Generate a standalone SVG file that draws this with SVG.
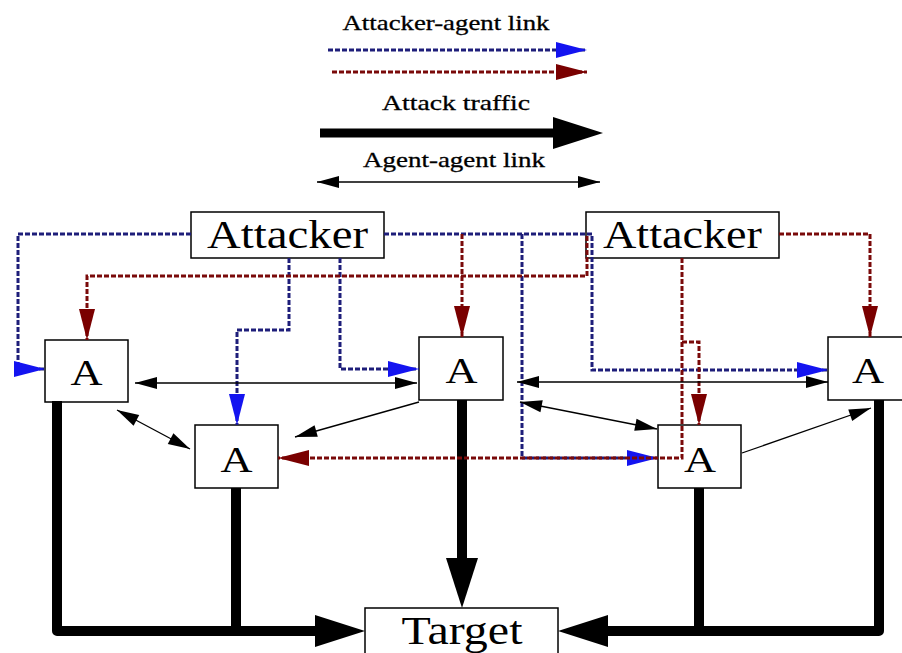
<svg xmlns="http://www.w3.org/2000/svg" width="902" height="653" viewBox="0 0 902 653">
<style>
text{font-family:"Liberation Serif","Times New Roman",serif;fill:#000;text-anchor:middle}
.lg{font-size:22px;stroke:#000;stroke-width:0.3}
.big{font-size:40px}
.a{font-size:36px}
.box{fill:#fff;stroke:#000;stroke-width:1.5}
.blue{fill:none;stroke:#1e1e7a;stroke-width:3;stroke-dasharray:5 2;marker-end:url(#mBlue)}
.red{fill:none;stroke:#7a0a0a;stroke-width:3;stroke-dasharray:5 2;marker-end:url(#mRed)}
.thick{fill:none;stroke:#000;stroke-width:10;stroke-linejoin:round}
.thin{fill:none;stroke:#000;stroke-width:1.3}
</style>
<defs>
<marker id="mBlue" markerUnits="userSpaceOnUse" markerWidth="34" markerHeight="18" refX="31" refY="8" orient="auto" overflow="visible"><path d="M0,0 L31,8 L0,16 z" fill="#1414f0"/></marker>
<marker id="mRed" markerUnits="userSpaceOnUse" markerWidth="34" markerHeight="18" refX="31" refY="8" orient="auto" overflow="visible"><path d="M0,0 L31,8 L0,16 z" fill="#7a0000"/></marker>
<marker id="mBig" markerUnits="userSpaceOnUse" markerWidth="52" markerHeight="34" refX="0" refY="16" orient="auto" overflow="visible"><path d="M0,0 L50,16 L0,32 z" fill="#000"/></marker>
<marker id="mThin" markerUnits="userSpaceOnUse" markerWidth="24" markerHeight="14" refX="22" refY="6" orient="auto-start-reverse" overflow="visible"><path d="M0,0 L22,6 L0,12 z" fill="#000"/></marker>
</defs>
<rect width="902" height="653" fill="#fff"/>

<g id="legend">
<text class="lg" x="446" y="30" textLength="207" lengthAdjust="spacingAndGlyphs">Attacker-agent link</text>
<path class="blue" d="M328,50 H587"/>
<path class="red" d="M332,72 H587"/>
<text class="lg" x="456" y="110" textLength="148" lengthAdjust="spacingAndGlyphs">Attack traffic</text>
<path d="M320,133 H553" fill="none" stroke="#000" stroke-width="9" marker-end="url(#mBig)"/>
<text class="lg" x="454" y="167" textLength="182" lengthAdjust="spacingAndGlyphs">Agent-agent link</text>
<path class="thin" d="M317,182 H600" marker-start="url(#mThin)" marker-end="url(#mThin)"/>
</g>

<g id="attacker1"><rect class="box" x="191" y="212" width="193" height="46"/><text class="big" x="287.5" y="248" textLength="161" lengthAdjust="spacingAndGlyphs">Attacker</text></g>
<g id="attacker2"><rect class="box" x="586" y="212" width="193" height="46"/><text class="big" x="682.5" y="248" textLength="159" lengthAdjust="spacingAndGlyphs">Attacker</text></g>
<g id="agent1"><rect class="box" x="45" y="340" width="83" height="62"/><text class="a" x="86.5" y="385" textLength="32" lengthAdjust="spacingAndGlyphs">A</text></g>
<g id="agent2"><rect class="box" x="419" y="337" width="84" height="63"/><text class="a" x="461.5" y="383" textLength="32" lengthAdjust="spacingAndGlyphs">A</text></g>
<g id="agent3"><rect class="box" x="828" y="337" width="84" height="63"/><text class="a" x="868" y="383" textLength="32" lengthAdjust="spacingAndGlyphs">A</text></g>
<g id="agent4"><rect class="box" x="195" y="425" width="83" height="63"/><text class="a" x="236.5" y="472" textLength="32" lengthAdjust="spacingAndGlyphs">A</text></g>
<g id="agent5"><rect class="box" x="658" y="425" width="83" height="63"/><text class="a" x="700" y="472" textLength="32" lengthAdjust="spacingAndGlyphs">A</text></g>
<g id="target"><rect class="box" x="365" y="608" width="193" height="60"/><text class="big" x="462" y="644" textLength="121" lengthAdjust="spacingAndGlyphs">Target</text></g>

<g id="connectors">
<path class="thick" d="M57,401 V631 H315" marker-end="url(#mBig)"/>
<path class="thick" d="M236,488 V631"/>
<path class="thick" d="M462,400 V558" marker-end="url(#mBig)"/>
<path class="thick" d="M879,400 V631 H608" marker-end="url(#mBig)"/>
<path class="thick" d="M699,488 V631"/>
<path class="blue" d="M191,234 H18 V369 H45"/>
<path class="blue" d="M289,258 V330 H237 V425"/>
<path class="blue" d="M340,258 V369 H419"/>
<path class="blue" d="M384,234 H592 V370 H828"/>
<path class="blue" d="M522,234 V458 H658"/>
<path class="red" d="M587,236 V276 H87 V340"/>
<path class="red" d="M462,234 V337"/>
<path class="red" d="M779,234 H870 V337"/>
<path class="red" d="M682,258 V458 H278"/>
<path class="red" d="M682,342 H699 V425"/>
<path class="thin" d="M135,383 H417" marker-start="url(#mThin)" marker-end="url(#mThin)"/>
<path class="thin" d="M517,382 H828" marker-start="url(#mThin)" marker-end="url(#mThin)"/>
<path class="thin" d="M117,410 L190,449" marker-start="url(#mThin)" marker-end="url(#mThin)"/>
<path class="thin" d="M419,402 L295,437" marker-end="url(#mThin)"/>
<path class="thin" d="M520,402 L657,429" marker-start="url(#mThin)" marker-end="url(#mThin)"/>
<path class="thin" d="M742,453 L871,408" marker-end="url(#mThin)"/>
</g>
</svg>
